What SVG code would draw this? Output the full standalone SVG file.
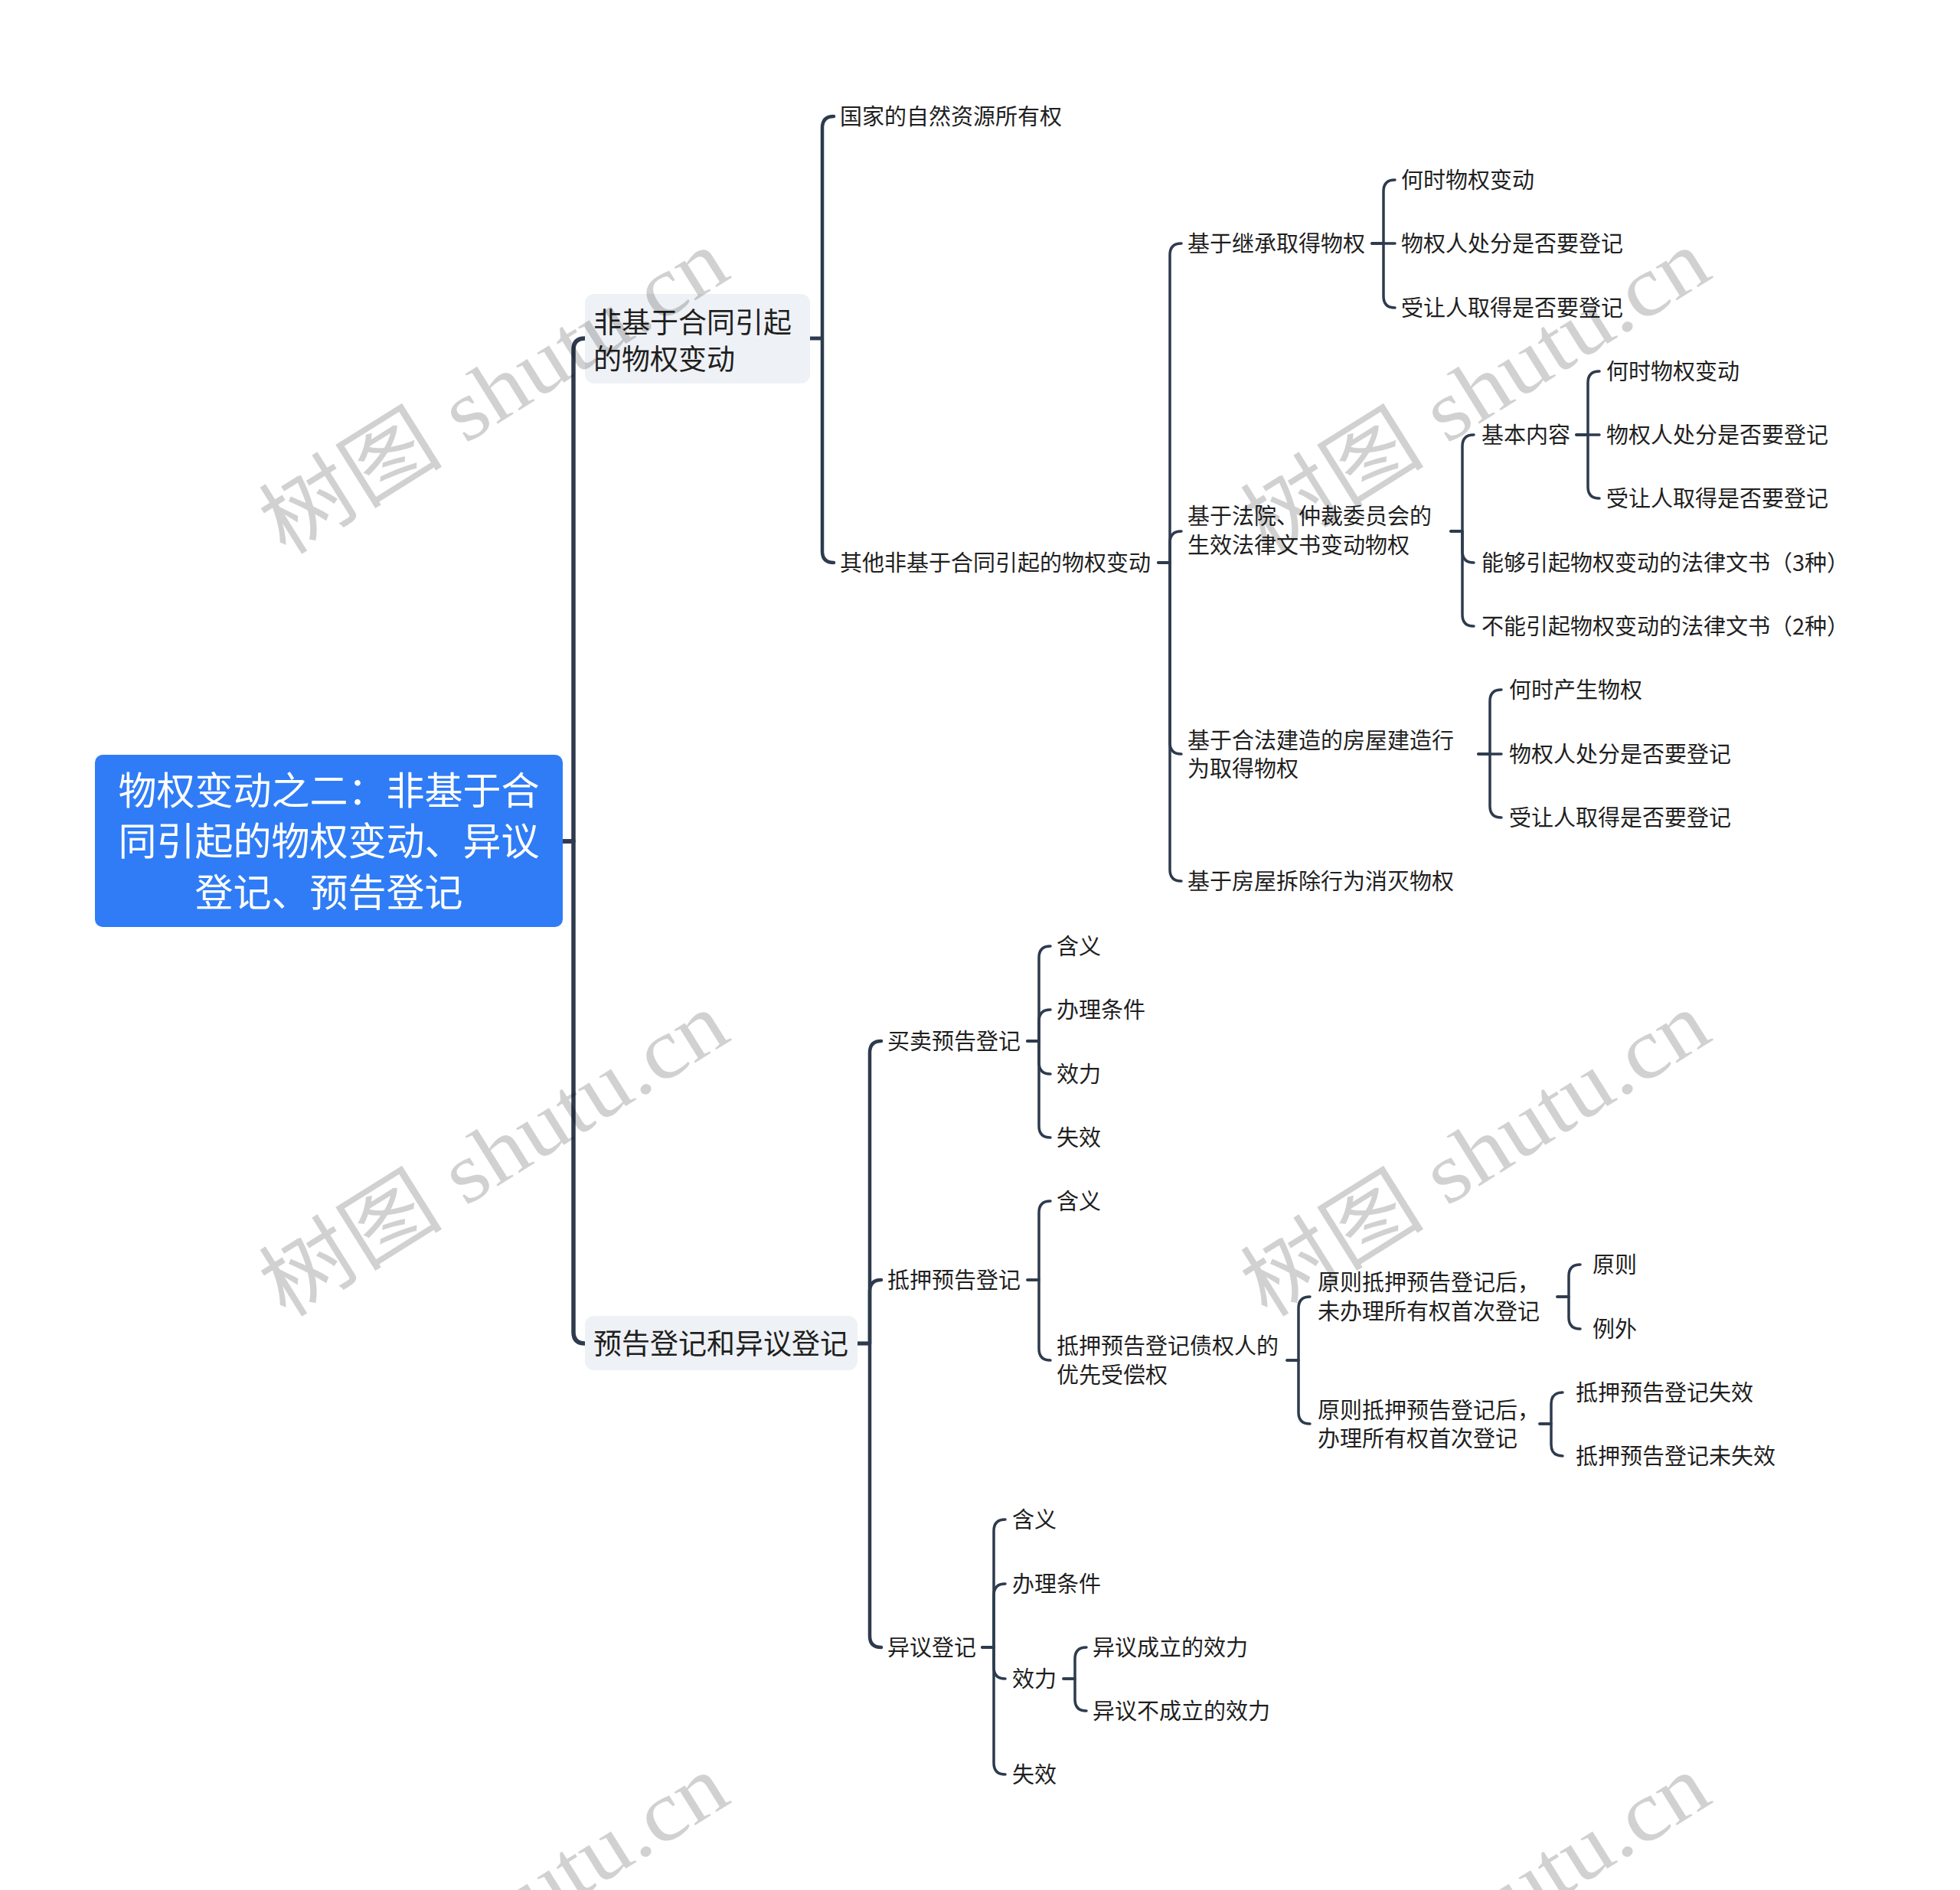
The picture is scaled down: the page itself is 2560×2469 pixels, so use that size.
<svg xmlns="http://www.w3.org/2000/svg" width="2560" height="2469" viewBox="0 0 2560 2469">
<style>
.t{font-family:"Noto Sans CJK SC","Liberation Sans",sans-serif;font-size:29px;fill:#1f1f1f}
.t1{font-family:"Noto Sans CJK SC","Liberation Sans",sans-serif;font-size:37px;fill:#1f1f1f}
.t0{font-family:"Noto Sans CJK SC","Liberation Sans",sans-serif;font-size:50px;fill:#ffffff;text-anchor:middle}
.c{fill:none;stroke:#2e3b4e;stroke-width:3.5;stroke-linecap:round;stroke-linejoin:round}
.c0{stroke-width:5.5}
.c1{stroke-width:4.5}
.wm{font-family:"Liberation Serif","Noto Sans CJK SC",serif;font-size:112px;fill:#000;fill-opacity:0.18;text-anchor:middle}
</style>
<rect width="2560" height="2469" fill="#ffffff"/>
<g id="connectors">
<path class="c c0" d="M735 1099 H749 V457 Q749 442 764 442"/>
<path class="c c0" d="M735 1099 H749 V1740 Q749 1755 764 1755"/>
<path class="c c1" d="M1058 442 H1074 V167 Q1074 152 1089 152"/>
<path class="c c1" d="M1058 442 H1074 V720 Q1074 735 1089 735"/>
<path class="c" d="M1513 735 H1528 V333 Q1528 318 1543 318"/>
<path class="c" d="M1513 735 H1528 V709 Q1528 694 1543 694"/>
<path class="c" d="M1513 735 H1528 V970 Q1528 985 1543 985"/>
<path class="c" d="M1513 735 H1528 V1136 Q1528 1151 1543 1151"/>
<path class="c" d="M1792 318 H1807 V250 Q1807 235 1822 235"/>
<path class="c" d="M1792 318 H1822"/>
<path class="c" d="M1792 318 H1807 V387 Q1807 402 1822 402"/>
<path class="c" d="M1895 694 H1910 V583 Q1910 568 1925 568"/>
<path class="c" d="M1895 694 H1910 V720 Q1910 735 1925 735"/>
<path class="c" d="M1895 694 H1910 V803 Q1910 818 1925 818"/>
<path class="c" d="M2059 568 H2074 V500 Q2074 485 2089 485"/>
<path class="c" d="M2059 568 H2089"/>
<path class="c" d="M2059 568 H2074 V636 Q2074 651 2089 651"/>
<path class="c" d="M1931 985 H1946 V916 Q1946 901 1961 901"/>
<path class="c" d="M1931 985 H1961"/>
<path class="c" d="M1931 985 H1946 V1053 Q1946 1068 1961 1068"/>
<path class="c c1" d="M1120 1755 H1136 V1375 Q1136 1360 1151 1360"/>
<path class="c c1" d="M1120 1755 H1136 V1687 Q1136 1672 1151 1672"/>
<path class="c c1" d="M1120 1755 H1136 V2137 Q1136 2152 1151 2152"/>
<path class="c" d="M1342 1360 H1357 V1251 Q1357 1236 1372 1236"/>
<path class="c" d="M1342 1360 H1357 V1334 Q1357 1319 1372 1319"/>
<path class="c" d="M1342 1360 H1357 V1388 Q1357 1403 1372 1403"/>
<path class="c" d="M1342 1360 H1357 V1471 Q1357 1486 1372 1486"/>
<path class="c" d="M1342 1672 H1357 V1584 Q1357 1569 1372 1569"/>
<path class="c" d="M1342 1672 H1357 V1762 Q1357 1777 1372 1777"/>
<path class="c" d="M1681 1777 H1696 V1709 Q1696 1694 1711 1694"/>
<path class="c" d="M1681 1777 H1696 V1845 Q1696 1860 1711 1860"/>
<path class="c" d="M2034 1694 H2049 V1667 Q2049 1652 2064 1652"/>
<path class="c" d="M2034 1694 H2049 V1721 Q2049 1736 2064 1736"/>
<path class="c" d="M2011 1860 H2026 V1834 Q2026 1819 2041 1819"/>
<path class="c" d="M2011 1860 H2026 V1887 Q2026 1902 2041 1902"/>
<path class="c" d="M1283 2152 H1298 V2000 Q1298 1985 1313 1985"/>
<path class="c" d="M1283 2152 H1298 V2084 Q1298 2069 1313 2069"/>
<path class="c" d="M1283 2152 H1298 V2178 Q1298 2193 1313 2193"/>
<path class="c" d="M1283 2152 H1298 V2303 Q1298 2318 1313 2318"/>
<path class="c" d="M1389 2193 H1404 V2167 Q1404 2152 1419 2152"/>
<path class="c" d="M1389 2193 H1404 V2220 Q1404 2235 1419 2235"/>
</g>
<g id="root">
<rect x="124" y="986" width="611" height="225" rx="10" fill="#2f7cf6"/>
<text class="t0" x="429.5" y="1051">物权变动之二：非基于合</text>
<text class="t0" x="429.5" y="1117">同引起的物权变动、异议</text>
<text class="t0" x="429.5" y="1184">登记、预告登记</text>
</g>
<g id="n1">
<rect x="764" y="384" width="294" height="117" rx="12" fill="#eef1f5"/>
<text class="t1" x="775" y="435">非基于合同引起</text>
<text class="t1" x="775" y="483">的物权变动</text>
</g>
<g id="n2"><text class="t" x="1097" y="163">国家的自然资源所有权</text></g>
<g id="n3"><text class="t" x="1097" y="746">其他非基于合同引起的物权变动</text></g>
<g id="n4"><text class="t" x="1551" y="329">基于继承取得物权</text></g>
<g id="n5"><text class="t" x="1830" y="246">何时物权变动</text></g>
<g id="n6"><text class="t" x="1830" y="329">物权人处分是否要登记</text></g>
<g id="n7"><text class="t" x="1830" y="413">受让人取得是否要登记</text></g>
<g id="n8"><text class="t" x="1551" y="685">基于法院、仲裁委员会的</text><text class="t" x="1551" y="723">生效法律文书变动物权</text></g>
<g id="n9"><text class="t" x="1935" y="579">基本内容</text></g>
<g id="n10"><text class="t" x="2098" y="496">何时物权变动</text></g>
<g id="n11"><text class="t" x="2098" y="579">物权人处分是否要登记</text></g>
<g id="n12"><text class="t" x="2098" y="662">受让人取得是否要登记</text></g>
<g id="n13"><text class="t" x="1935" y="746">能够引起物权变动的法律文书（3种）</text></g>
<g id="n14"><text class="t" x="1935" y="829">不能引起物权变动的法律文书（2种）</text></g>
<g id="n15"><text class="t" x="1551" y="978">基于合法建造的房屋建造行</text><text class="t" x="1551" y="1015">为取得物权</text></g>
<g id="n16"><text class="t" x="1971" y="912">何时产生物权</text></g>
<g id="n17"><text class="t" x="1971" y="996">物权人处分是否要登记</text></g>
<g id="n18"><text class="t" x="1971" y="1079">受让人取得是否要登记</text></g>
<g id="n19"><text class="t" x="1551" y="1162">基于房屋拆除行为消灭物权</text></g>
<g id="n20">
<rect x="764" y="1719" width="356" height="71" rx="12" fill="#eef1f5"/>
<text class="t1" x="775" y="1769">预告登记和异议登记</text>
</g>
<g id="n21"><text class="t" x="1159" y="1371">买卖预告登记</text></g>
<g id="n22"><text class="t" x="1380" y="1247">含义</text></g>
<g id="n23"><text class="t" x="1380" y="1330">办理条件</text></g>
<g id="n24"><text class="t" x="1380" y="1414">效力</text></g>
<g id="n25"><text class="t" x="1380" y="1497">失效</text></g>
<g id="n26"><text class="t" x="1159" y="1683">抵押预告登记</text></g>
<g id="n27"><text class="t" x="1380" y="1580">含义</text></g>
<g id="n28"><text class="t" x="1380" y="1769">抵押预告登记债权人的</text><text class="t" x="1380" y="1807">优先受偿权</text></g>
<g id="n29"><text class="t" x="1721" y="1686">原则抵押预告登记后，</text><text class="t" x="1721" y="1724">未办理所有权首次登记</text></g>
<g id="n30"><text class="t" x="2080" y="1663">原则</text></g>
<g id="n31"><text class="t" x="2080" y="1747">例外</text></g>
<g id="n32"><text class="t" x="1721" y="1853">原则抵押预告登记后，</text><text class="t" x="1721" y="1890">办理所有权首次登记</text></g>
<g id="n33"><text class="t" x="2058" y="1830">抵押预告登记失效</text></g>
<g id="n34"><text class="t" x="2058" y="1913">抵押预告登记未失效</text></g>
<g id="n35"><text class="t" x="1159" y="2163">异议登记</text></g>
<g id="n36"><text class="t" x="1322" y="1996">含义</text></g>
<g id="n37"><text class="t" x="1322" y="2080">办理条件</text></g>
<g id="n38"><text class="t" x="1322" y="2204">效力</text></g>
<g id="n39"><text class="t" x="1427" y="2163">异议成立的效力</text></g>
<g id="n40"><text class="t" x="1427" y="2246">异议不成立的效力</text></g>
<g id="n41"><text class="t" x="1322" y="2329">失效</text></g>
<g id="watermarks">
<text class="wm" transform="translate(645 512) rotate(-32)" y="38" textLength="690" lengthAdjust="spacingAndGlyphs">树图 shutu.cn</text>
<text class="wm" transform="translate(1927 512) rotate(-32)" y="38" textLength="690" lengthAdjust="spacingAndGlyphs">树图 shutu.cn</text>
<text class="wm" transform="translate(645 1508) rotate(-32)" y="38" textLength="690" lengthAdjust="spacingAndGlyphs">树图 shutu.cn</text>
<text class="wm" transform="translate(1927 1508) rotate(-32)" y="38" textLength="690" lengthAdjust="spacingAndGlyphs">树图 shutu.cn</text>
<text class="wm" transform="translate(645 2504) rotate(-32)" y="38" textLength="690" lengthAdjust="spacingAndGlyphs">树图 shutu.cn</text>
<text class="wm" transform="translate(1927 2504) rotate(-32)" y="38" textLength="690" lengthAdjust="spacingAndGlyphs">树图 shutu.cn</text>
</g>
</svg>
